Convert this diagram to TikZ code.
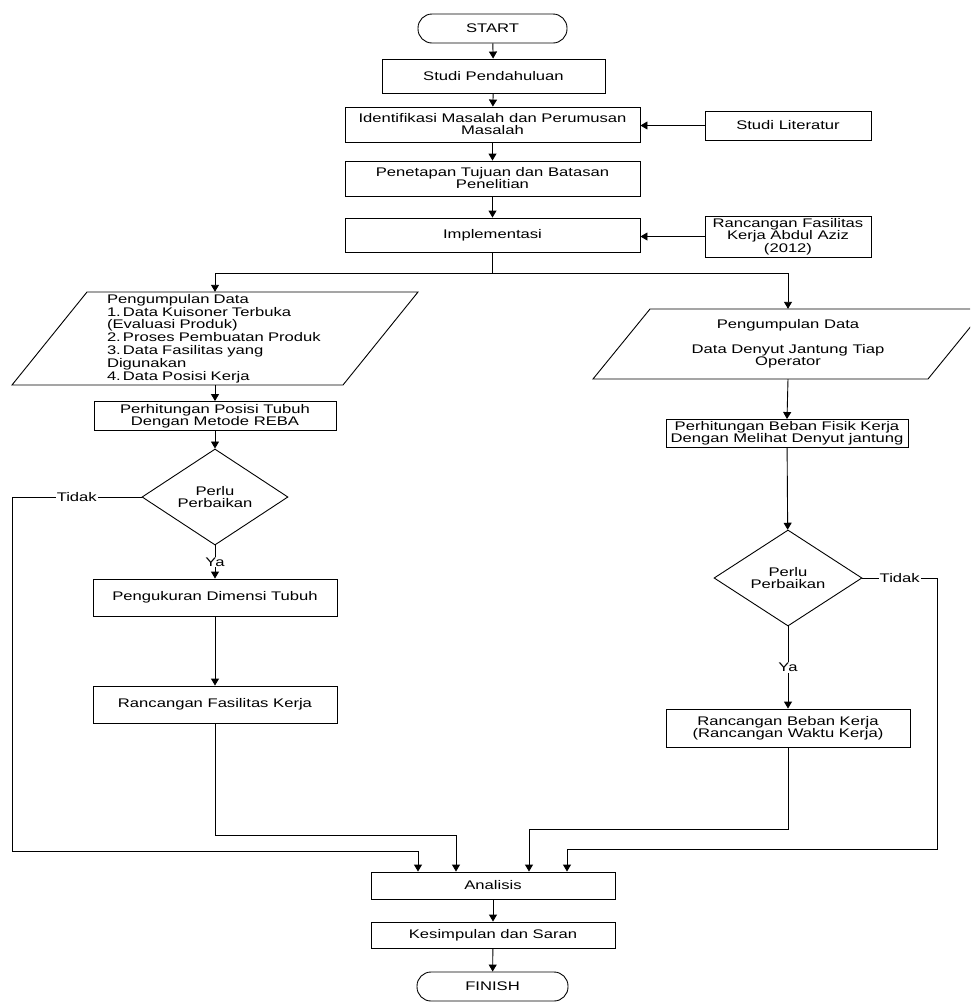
\documentclass[tikz,border=0pt]{standalone}
\usepackage{fontspec}
\setmainfont{Liberation Sans}[FakeStretch=1.33]
\usetikzlibrary{arrows.meta,shapes.geometric}
\newcommand\dfont{\fontsize{12.5}{12}\selectfont}
\newcommand\lfont{\fontsize{12.5}{12.8}\selectfont}
\tikzset{
  ln/.style={line width=0.9pt, draw=black},
  arr/.style={ln, -{Triangle[width=8pt,length=7pt]}},
  box/.style={rectangle, draw=black, fill=white, line width=0.9pt, inner sep=0pt, align=center, font=\dfont},
  term/.style={box, rounded corners=14pt},
  dia/.style={diamond, draw=black, fill=white, line width=0.9pt, inner sep=0pt, align=center, font=\dfont},
  shp/.style={draw=black, fill=white, line width=0.9pt},
  txt/.style={inner sep=0pt, font=\dfont},
  lbl/.style={fill=white, inner sep=1pt, font=\dfont}
}
\begin{document}
\begin{tikzpicture}[x=1pt,y=-1pt]
\clip (0,0) rectangle (970,1002);
\useasboundingbox (0,0) rectangle (970,1002);
\fill[white] (0,0) rectangle (970,1002);

% top column
\node[term, minimum width=149pt, minimum height=29pt] (start) at (492.5,28.5) {START};
\node[box, minimum width=223pt, minimum height=34pt] (stud) at (493.5,76) {Studi Pendahuluan};
\node[box, minimum width=295pt, minimum height=35pt] (ident) at (492.5,124.5) {Identifikasi Masalah dan Perumusan\\Masalah};
\node[box, minimum width=295pt, minimum height=35pt] (tuj) at (492.5,178.5) {Penetapan Tujuan dan Batasan\\Penelitian};
\node[box, minimum width=295pt, minimum height=34pt] (impl) at (492.5,235) {Implementasi};
\node[box, minimum width=166pt, minimum height=29pt] (lit) at (788,125.5) {Studi Literatur};
\node[box, minimum width=166pt, minimum height=41pt, font=\fontsize{12.5}{11.5}\selectfont] (aziz) at (788,236.5) {Rancangan Fasilitas\\Kerja Abdul Aziz\\(2012)};
\coordinate (jn) at (492.5,273);

% left branch
\draw[shp] (87,292) -- (418,292) -- (343,385) -- (12,385) -- cycle;
\node[txt, text width=216pt, align=left, minimum height=93pt, font=\lfont] (pl) at (215,338.5)
  {Pengumpulan Data\\1.\,Data Kuisoner Terbuka\\(Evaluasi Produk)\\2.\,Proses Pembuatan Produk\\3.\,Data Fasilitas yang\\Digunakan\\4.\,Data Posisi Kerja};
\node[box, minimum width=242pt, minimum height=29pt] (posisi) at (215,416) {Perhitungan Posisi Tubuh\\Dengan Metode REBA};
\node[dia, minimum width=146pt, minimum height=70pt] (d1) at (215,497) {Perlu\\Perbaikan};
\node[box, minimum width=244pt, minimum height=37pt] (peng) at (215,597.5) {Pengukuran Dimensi Tubuh};
\node[box, minimum width=244pt, minimum height=37pt] (rfk) at (215,704.5) {Rancangan Fasilitas Kerja};

% right branch
\draw[shp] (650,309) -- (985,309) -- (928,379) -- (593,379) -- cycle;
\node[txt, align=center, minimum height=70pt] (pr) at (788,344) {Pengumpulan Data\\[13pt]Data Denyut Jantung Tiap\\Operator};
\node[box, minimum width=242pt, minimum height=28pt] (pb) at (787,433.5) {Perhitungan Beban Fisik Kerja\\Dengan Melihat Denyut jantung};
\node[dia, minimum width=148pt, minimum height=70pt] (d2) at (788,578) {Perlu\\Perbaikan};
\node[box, minimum width=244pt, minimum height=38pt] (rb) at (788,728) {Rancangan Beban Kerja\\(Rancangan Waktu Kerja)};

% bottom column
\node[box, minimum width=244pt, minimum height=27pt] (anal) at (493,885.5) {Analisis};
\node[box, minimum width=244pt, minimum height=26pt] (kes) at (493,935) {Kesimpulan dan Saran};
\node[term, minimum width=151pt, minimum height=29pt] (finish) at (492.5,986.5) {FINISH};

% routing points
\coordinate (lo) at (12,851);
\coordinate (x1) at (418,851);
\coordinate (l2) at (215,835);
\coordinate (x2) at (456,835);
\coordinate (r2) at (788,829);
\coordinate (x3) at (529,829);
\coordinate (ro) at (937,849);
\coordinate (x4) at (567,849);

% connectors
\draw[arr] (start) -- (stud);
\draw[arr] (stud) -- (ident);
\draw[arr] (ident) -- (tuj);
\draw[arr] (tuj) -- (impl);
\draw[arr] (lit.west) -- (lit.west -| ident.east);
\draw[arr] (aziz.west) -- (aziz.west -| impl.east);
\draw[ln] (impl.south) -- (jn);
\draw[arr] (jn) -| (pl.north);
\draw[arr] (jn) -| (pr.north);
\draw[arr] (pl.south) -- (posisi.north);
\draw[arr] (posisi) -- (d1);
\draw[arr] (d1.south) -- node[lbl]{Ya} (peng.north);
\draw[arr] (peng) -- (rfk);
\draw[arr] (rfk.south) -- (l2) -- (x2) -- (x2 |- anal.north);
\draw[arr] (d1.west) -- node[lbl]{Tidak} (d1.west -| lo) -- (lo) -- (x1) -- (x1 |- anal.north);
\draw[arr] (pr.south) -- (pb.north);
\draw[arr] (pb) -- (d2);
\draw[arr] (d2.south) -- node[lbl]{Ya} (rb.north);
\draw[arr] (rb.south) -- (r2) -- (x3) -- (x3 |- anal.north);
\draw[arr] (d2.east) -- node[lbl]{Tidak} (d2.east -| ro) -- (ro) -- (x4) -- (x4 |- anal.north);
\draw[arr] (anal) -- (kes);
\draw[arr] (kes) -- (finish);
\end{tikzpicture}
\end{document}
